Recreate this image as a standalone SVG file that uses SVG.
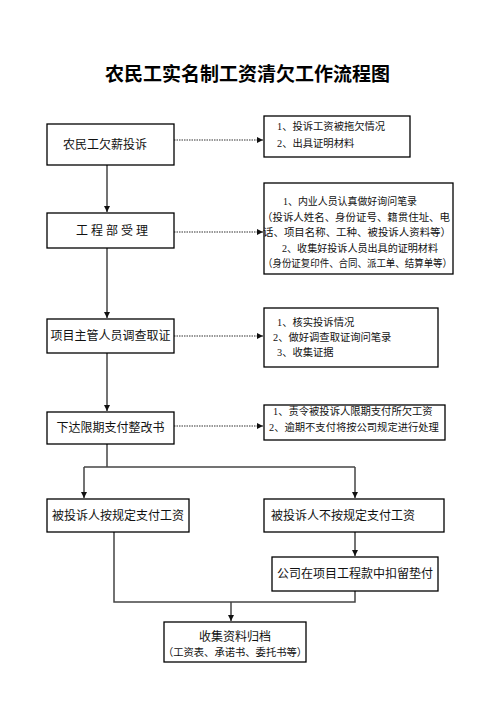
<svg xmlns="http://www.w3.org/2000/svg" width="496" height="702" viewBox="0 0 496 702">
<style>
.box{fill:#fff;stroke:#000;stroke-width:1.3}
.t{font-family:"Liberation Serif","Noto Sans CJK SC",serif;font-size:12px;fill:#111}
.s{font-family:"Liberation Serif","Noto Sans CJK SC",serif;font-size:10.3px;fill:#111}
.c{text-anchor:middle}
.ln{fill:none;stroke:#444;stroke-width:1.5}
.dt{fill:none;stroke:#333;stroke-width:1.2;stroke-dasharray:1.5 1}
.title{font-family:"Noto Sans CJK SC","Liberation Sans",sans-serif;font-weight:bold;font-size:19px;fill:#000;text-anchor:middle}
</style>
<defs>
<marker id="ah" markerWidth="6" markerHeight="6" refX="6" refY="3" orient="auto" markerUnits="userSpaceOnUse">
<path d="M0,0 L6,3 L0,6 Z" fill="#111"/>
</marker>
</defs>
<rect width="496" height="702" fill="#fff"/>
<text class="title" x="247.5" y="81">农民工实名制工资清欠工作流程图</text>

<g id="connectors">
<path class="dt" d="M174,140 H263" marker-end="url(#ah)"/>
<path class="dt" d="M174,232 H263" marker-end="url(#ah)"/>
<path class="dt" d="M174,336 H263" marker-end="url(#ah)"/>
<path class="dt" d="M174,426 H263" marker-end="url(#ah)"/>
<path class="ln" d="M107,165 V212" marker-end="url(#ah)"/>
<path class="ln" d="M107,248 V318" marker-end="url(#ah)"/>
<path class="ln" d="M107,353 V411" marker-end="url(#ah)"/>
<path class="ln" d="M107,444 V467"/>
<path class="ln" d="M84,467 H355"/>
<path class="ln" d="M84,467 V498" marker-end="url(#ah)"/>
<path class="ln" d="M355,467 V498" marker-end="url(#ah)"/>
<path class="ln" d="M355,532 V556" marker-end="url(#ah)"/>
<path class="ln" d="M114,532 V602 H355 V591"/>
<path class="ln" d="M231,602 V621" marker-end="url(#ah)"/>
</g>

<g id="n1">
<rect class="box" x="47" y="124" width="127" height="41"/>
<text class="t c" x="105" y="149">农民工欠薪投诉</text>
</g>
<g id="r1">
<rect class="box" x="264" y="116" width="146" height="41"/>
<text class="s" x="277" y="130">1、投诉工资被拖欠情况</text>
<text class="s" x="277" y="147">2、出具证明材料</text>
</g>

<g id="n2">
<rect class="box" x="47" y="213" width="127" height="35"/>
<text class="t c" x="112" y="235">工 程 部 受 理</text>
</g>
<g id="r2">
<rect class="box" x="264" y="183" width="189" height="91"/>
<text class="s" x="283" y="205" textLength="134" lengthAdjust="spacingAndGlyphs">1、内业人员认真做好询问笔录</text>
<text class="s" x="262" y="220.5" textLength="188" lengthAdjust="spacingAndGlyphs">（投诉人姓名、身份证号、籍贯住址、电</text>
<text class="s" x="263" y="236" textLength="188" lengthAdjust="spacingAndGlyphs">话、项目名称、工种、被投诉人资料等）</text>
<text class="s" x="282" y="251.5" textLength="156" lengthAdjust="spacingAndGlyphs">2、收集好投诉人员出具的证明材料</text>
<text class="s" x="263" y="267" textLength="189" lengthAdjust="spacingAndGlyphs">（身份证复印件、合同、派工单、结算单等）</text>
</g>

<g id="n3">
<rect class="box" x="47" y="319" width="127" height="34"/>
<text class="t c" x="110.5" y="340">项目主管人员调查取证</text>
</g>
<g id="r3">
<rect class="box" x="264" y="308" width="174" height="59"/>
<text class="s" x="277" y="326">1、核实投诉情况</text>
<text class="s" x="273" y="341">2、做好调查取证询问笔录</text>
<text class="s" x="277" y="356">3、收集证据</text>
</g>

<g id="n4">
<rect class="box" x="47" y="412" width="127" height="32"/>
<text class="t c" x="110.5" y="432">下达限期支付整改书</text>
</g>
<g id="r4">
<rect class="box" x="264" y="405" width="181" height="35"/>
<text class="s" x="273" y="415">1、责令被投诉人限期支付所欠工资</text>
<text class="s" x="269" y="431">2、逾期不支付将按公司规定进行处理</text>
</g>

<g id="n5">
<rect class="box" x="47" y="499" width="142" height="33"/>
<text class="t c" x="118" y="519.5">被投诉人按规定支付工资</text>
</g>
<g id="n6">
<rect class="box" x="264" y="499" width="180" height="33"/>
<text class="t" x="271" y="519.5">被投诉人不按规定支付工资</text>
</g>
<g id="n7">
<rect class="box" x="272" y="557" width="166" height="34"/>
<text class="t c" x="355" y="578">公司在项目工程款中扣留垫付</text>
</g>
<g id="n8">
<rect class="box" x="164" y="622" width="142" height="40"/>
<text class="t c" x="235" y="641">收集资料归档</text>
<text class="s c" x="235" y="655.5">（工资表、承诺书、委托书等）</text>
</g>
</svg>
